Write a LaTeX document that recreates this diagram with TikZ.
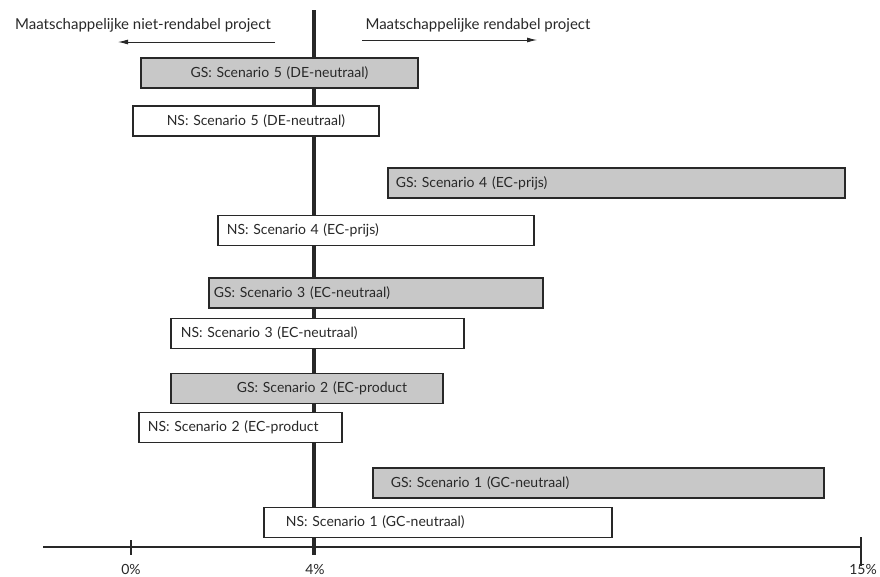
\documentclass[tikz,border=0pt]{standalone}
\usepackage{fontspec}
\setmainfont{Lato}
\usepackage{tikz}
\usetikzlibrary{arrows,arrows.meta}
\usetikzlibrary{calc}
\usetikzlibrary{positioning}
\definecolor{barg}{RGB}{200,200,200}
\definecolor{ink}{RGB}{40,40,40}

\begin{document}
\begin{tikzpicture}[x=1pt,y=-1pt,font=\fontsize{14}{16}\selectfont, semithick, color=ink]
	\tikzstyle{gs}=[draw, line width=1.8pt, fill=barg, anchor=west, minimum height=30pt, align=left, inner ysep=0pt]
	\tikzstyle{ns}=[draw, line width=1.8pt, fill=white, anchor=west, minimum height=30pt, align=left, inner ysep=0pt]
	\tikzstyle{tick}=[line width=1.8pt]
	\tikzstyle{richting}=[-{Latex[length=10pt,width=5pt]}, line width=0.9pt]
	\useasboundingbox (0,0) rectangle (880,576);

	% assen
	\coordinate (top) at (314,10);
	\coordinate (nul) at (131,547);
	\coordinate (vier) at (314,547);
	\coordinate (vijftien) at (861,547);
	\coordinate (links) at (43,547);
	\draw[line width=1.8pt] (links) -- (vijftien);
	\draw[line width=3.2pt] (top) -- (vier);
	\draw[tick] ($(nul)+(0,-7)$) -- ($(nul)+(0,8)$);
	\draw[line width=3.2pt] (vier) -- ($(vier)+(0,8)$);
	\draw[tick] ($(vijftien)+(0,-10)$) -- ($(vijftien)+(0,19)$);
	\node (l0) at (131,569) {0\%};
	\node (l4) at (315,569) {4\%};
	\node (l15) at (863,569) {15\%};

	% richting
	\node[font=\fontsize{15}{17}\selectfont] (nr) at (143,25) {Maatschappelijke niet-rendabel project};
	\node[font=\fontsize{15}{17}\selectfont] (r) at (478,25) {Maatschappelijke rendabel project};
	\coordinate (nr1) at (275,42);
	\coordinate (nr2) at (118,42);
	\coordinate (r1) at (362,40);
	\coordinate (r2) at (537,40);
	\draw[richting] (nr1) -- (nr2);
	\draw[richting] (r1) -- (r2);

	% scenario's
	\node[gs, align=center, inner xsep=0pt, text width=277pt] (gs5) at (140,73) {GS: Scenario 5 (DE-neutraal)};
	\node[ns, align=center, inner xsep=0pt, text width=246pt] (ns5) at (132,121) {NS: Scenario 5 (DE-neutraal)};
	\node[gs, inner xsep=8pt, text width=441pt] (gs4) at (387,183) {GS: Scenario 4 (EC-prijs)};
	\node[ns, inner xsep=9pt, text width=298pt] (ns4) at (217,230.5) {NS: Scenario 4 (EC-prijs)};
	\node[gs, inner xsep=5pt, text width=324pt] (gs3) at (208,293) {GS: Scenario 3 (EC-neutraal)};
	\node[ns, inner xsep=10pt, text width=273pt] (ns3) at (170,333.5) {NS: Scenario 3 (EC-neutraal)};
	\node[gs, inner xsep=0pt, text width=272pt] (gs2) at (170,388.5) {\hspace*{66pt}GS: Scenario 2 (EC-product};
	\node[ns, inner xsep=9pt, text width=185pt] (ns2) at (138,427.5) {NS: Scenario 2 (EC-product};
	\node[gs, inner xsep=18pt, text width=415pt] (gs1) at (372,483) {GS: Scenario 1 (GC-neutraal)};
	\node[ns, inner xsep=22pt, text width=304pt] (ns1) at (263,522.5) {NS: Scenario 1 (GC-neutraal)};
\end{tikzpicture}
\end{document}
